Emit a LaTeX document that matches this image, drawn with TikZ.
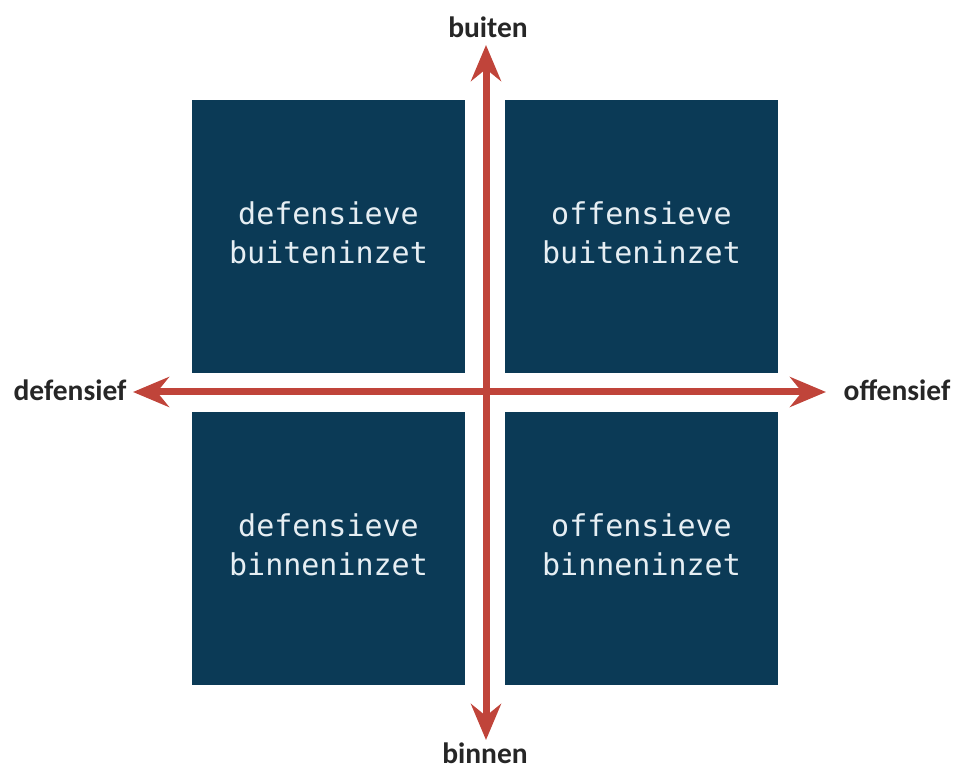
\documentclass[tikz,border=0pt]{standalone}
\usepackage{fontspec}
\usepackage{xcolor}
\usepackage{tikz}
\usetikzlibrary{matrix}
\usetikzlibrary{arrows.meta}
\setmainfont{Carlito}
\setmonofont{DejaVu Sans Mono}
\definecolor{navy}{HTML}{0B3A56}
\definecolor{pijlrood}{HTML}{C0443A}
\definecolor{kwadranttekst}{HTML}{E6EEF3}
\newcommand{\Q}[2]{\begin{tabular}{@{}c@{}}#1\\#2\end{tabular}}

\begin{document}
\begin{tikzpicture}[x=1pt,y=1pt]
              \useasboundingbox (0,0) rectangle (959,769);
              \tikzset{
                kwadrant/.style={fill=navy,text=kwadranttekst,minimum width=273pt,minimum height=272pt,
                  font=\ttfamily\fontsize{30}{39}\selectfont,inner sep=0pt},
                as/.style={draw=pijlrood,line width=7pt,{Stealth[length=36pt,width=30pt,inset=12pt]}-{Stealth[length=36pt,width=30pt,inset=12pt]}},
                pool/.style={font=\bfseries\fontsize{29.5}{34}\selectfont,text=black!85,inner sep=0pt}
              }
              \matrix (m) [matrix of nodes,row sep=40pt,column sep=40pt,nodes={kwadrant}] at (485,376.5)
              {
                 \Q{defensieve}{buiteninzet} & \Q{offensieve}{buiteninzet} \\
                 \Q{defensieve}{binneninzet} & \Q{offensieve}{binneninzet} \\
                };

              \coordinate (boven) at (486,724);
              \coordinate (onder) at (486,29);
              \coordinate (links) at (133,377);
              \coordinate (rechts) at (826,377);

              \node[pool] (buiten) at (488,742) {buiten};
              \node[pool] (binnen) at (485,16) {binnen};
              \node[pool] (defensief) at (70,379) {defensief};
              \node[pool] (offensief) at (897,379) {offensief};

              \draw[as] (onder) -- (boven);
              \draw[as] (links) -- (rechts);
            \end{tikzpicture}
\end{document}
